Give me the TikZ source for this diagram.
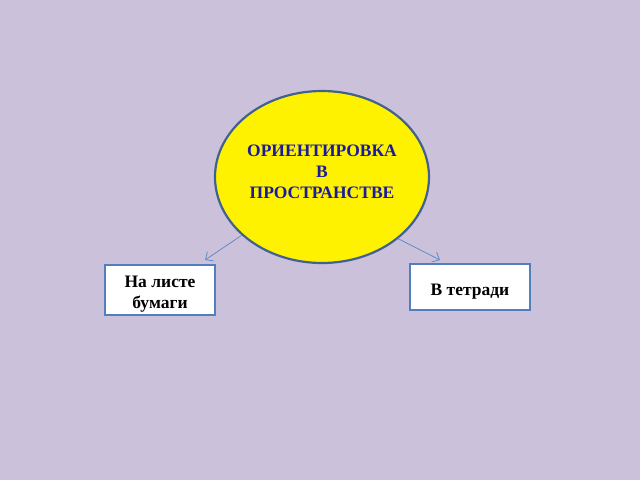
\documentclass[tikz,border=0pt]{standalone}
\usepackage{fontspec}
\setmainfont{Liberation Serif}
\usetikzlibrary{shapes.geometric,arrows.meta}
\definecolor{bgcol}{HTML}{CCC1DA}
\definecolor{ellline}{HTML}{41618F}
\definecolor{elltext}{HTML}{1A1A9E}
\definecolor{boxline}{HTML}{4F7FBF}
\definecolor{arrcol}{HTML}{5F8CC8}
\newcommand{\lowstrut}{\rule{0pt}{20pt}}
\tikzset{
  mainell/.style={ellipse,draw=ellline,fill=yellow,line width=2.2pt,
    minimum width=214pt,minimum height=172pt,inner sep=0pt,
    text=elltext,font=\fontsize{17.5}{21}\selectfont\bfseries,align=center},
  leafbox/.style={rectangle,draw=boxline,fill=white,line width=1.6pt,
    inner sep=0pt,font=\fontsize{17.5}{21}\selectfont\bfseries,align=center},
  linkarr/.style={draw=arrcol,line width=0.8pt,-{Straight Barb[length=6pt,width=11pt]}}
}
\begin{document}
\begin{tikzpicture}[x=1pt,y=-1pt]
    \fill[bgcol] (0,0) rectangle (640,480);
    \useasboundingbox (0,0) rectangle (640,480);
    \node[mainell] (ell) at (322,177) {ОРИЕНТИРОВКА\\В\\ПРОСТРАНСТВЕ\\[-10pt]};
    \node[leafbox,minimum width=110pt,minimum height=50pt] (lb) at (160,290) {\lowstrut На листе\\бумаги};
    \node[leafbox,minimum width=120pt,minimum height=46pt] (rb) at (470,287) {\lowstrut В тетради};
    \coordinate (la) at (205,260);
    \coordinate (ra) at (440,260);
    \draw[linkarr] (ell.216) -- (la);
    \draw[linkarr] (ell.321) -- (ra);
\end{tikzpicture}
\end{document}
